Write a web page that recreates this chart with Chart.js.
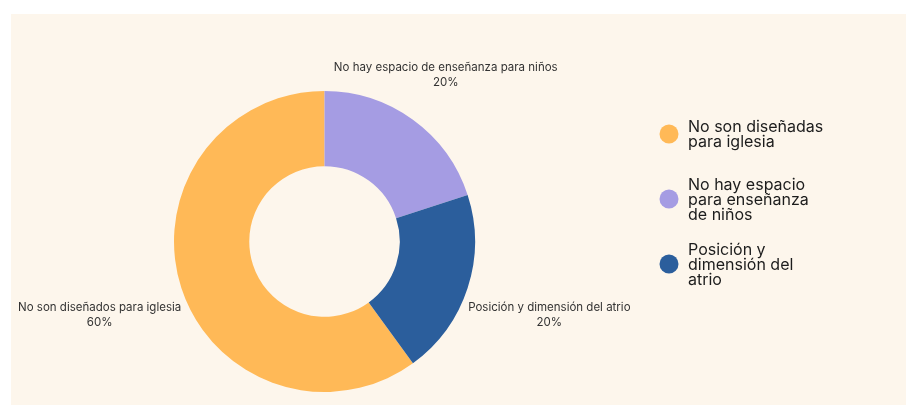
<!DOCTYPE html>
<html>
<head>
<meta charset="utf-8">
<script src="https://cdn.jsdelivr.net/npm/chart.js@4.4.0/dist/chart.umd.min.js"></script>
<style>
  html, body { margin: 0; padding: 0; background: #ffffff; }
  #wrap { position: relative; width: 906px; height: 405px; }
  #panel { position: absolute; left: 11px; top: 14px; right: 0; bottom: 0; background: #fdf6ec; }
  #chart { position: absolute; left: 0; top: 0; }
</style>
</head>
<body>
<div id="wrap">
  <div id="panel"></div>
  <canvas id="chart" width="906" height="405"></canvas>
</div>
<script>
// Data
var sliceLabels = ['No son diseñados para iglesia', 'No hay espacio de enseñanza para niños', 'Posición y dimensión del atrio'];
var legendLabels = [
  ['No son diseñadas', 'para iglesia'],
  ['No hay espacio', 'para enseñanza', 'de niños'],
  ['Posición y', 'dimensión del', 'atrio']
];
var values = [60, 20, 20];
var colors = ['#ffb957', '#a59ce3', '#2b5e9c'];

var fontFamily = 'Inter, "Noto Sans", sans-serif';

// Draws the slice labels outside the ring
var outsideLabels = {
  id: 'outsideLabels',
  afterDatasetsDraw: function(chart) {
    var ctx = chart.ctx;
    var meta = chart.getDatasetMeta(0);
    var total = values.reduce(function(a, b) { return a + b; }, 0);
    ctx.save();
    ctx.fillStyle = '#333333';
    ctx.font = '11.5px ' + fontFamily;
    ctx.textAlign = 'center';
    ctx.textBaseline = 'middle';
    meta.data.forEach(function(arc, i) {
      var mid = (arc.startAngle + arc.endAngle) / 2;
      var dx = Math.cos(mid), dy = Math.sin(mid);
      var d = arc.outerRadius + 7 + 83 * Math.abs(dx);
      var x = arc.x + dx * d;
      var y = arc.y + dy * d;
      var pct = Math.round(values[i] / total * 100) + '%';
      ctx.fillText(sliceLabels[i], x, y - 7);
      ctx.fillText(pct, x, y + 8);
    });
    ctx.restore();
  }
};

// Legend on the right with multi-line labels
var sideLegend = {
  id: 'sideLegend',
  afterDraw: function(chart) {
    var ctx = chart.ctx;
    var markerX = 669, textX = 688, firstY = 134, step = 65, lineH = 15;
    ctx.save();
    ctx.font = '16px ' + fontFamily;
    ctx.textAlign = 'left';
    ctx.textBaseline = 'middle';
    legendLabels.forEach(function(lines, i) {
      var cy = firstY + i * step;
      ctx.fillStyle = colors[i];
      ctx.beginPath();
      ctx.arc(markerX, cy, 9.5, 0, Math.PI * 2);
      ctx.fill();
      ctx.fillStyle = '#1c1c1c';
      lines.forEach(function(line, j) {
        ctx.fillText(line, textX, cy + 1 + (j - (lines.length - 1) / 2) * lineH);
      });
    });
    ctx.restore();
  }
};

var chart = new Chart(document.getElementById('chart').getContext('2d'), {
  type: 'doughnut',
  data: {
    labels: sliceLabels,
    datasets: [{
      data: values,
      backgroundColor: colors,
      borderWidth: 0,
      hoverOffset: 0,
      offset: 0
    }]
  },
  options: {
    responsive: false,
    animation: false,
    rotation: 144,
    cutout: '50%',
    layout: { padding: { left: 174, right: 431, top: 91, bottom: 13 } },
    plugins: {
      legend: { display: false },
      tooltip: { enabled: false }
    }
  },
  plugins: [outsideLabels, sideLegend]
});
</script>
</body>
</html>
